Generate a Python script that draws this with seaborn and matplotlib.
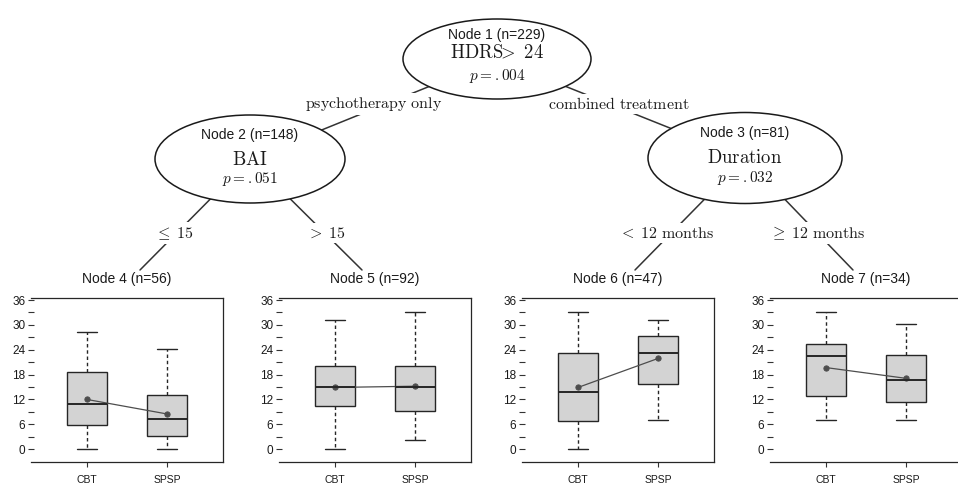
import matplotlib
matplotlib.use("Agg")
import matplotlib.pyplot as plt
from matplotlib.patches import Ellipse
import pandas as pd
import seaborn as sns

# values
groups = ["CBT", "SPSP"]
leaf_titles = ["Node 4 (n=56)", "Node 5 (n=92)", "Node 6 (n=47)", "Node 7 (n=34)"]
# five-number summaries: lower whisker, Q1, median, Q3, upper whisker
cbt_stats = [[0.0, 5.8, 11.0, 18.7, 28.3],
             [0.0, 10.4, 15.1, 20.2, 31.3],
             [0.0, 6.9, 13.8, 23.3, 33.0],
             [7.0, 12.9, 22.5, 25.4, 33.0]]
spsp_stats = [[0.0, 3.1, 7.2, 13.0, 24.1],
              [2.2, 9.3, 15.1, 20.2, 33.0],
              [7.0, 15.7, 23.3, 27.4, 31.2],
              [7.0, 11.3, 16.7, 22.7, 30.3]]
cbt_means = [12.0, 14.9, 14.9, 19.7]
spsp_means = [8.5, 15.2, 21.9, 17.1]

inner_titles = ["Node 1 (n=229)", "Node 2 (n=148)", "Node 3 (n=81)"]
inner_vars = [r"$\mathrm{HDRS}\!\!>\ 24$", r"$\mathrm{BAI}$", r"$\mathrm{Duration}$"]
inner_p = [r"$p=.004$", r"$p=.051$", r"$p=.032$"]
edge_labels = [r"$\mathrm{psychotherapy\ only}$", r"$\mathrm{combined\ treatment}$",
               r"$\leq\;15$", r"$>\;15$",
               r"$<\;12\ \mathrm{months}$", r"$\geq\;12\ \mathrm{months}$"]

rows = []
for i, t in enumerate(leaf_titles):
    for g, st in zip(groups, [cbt_stats[i], spsp_stats[i]]):
        for v in st:
            rows.append((t, g, v))
df = pd.DataFrame(rows, columns=["node", "group", "score"])

sns.set_style("white")
plt.rcParams["font.family"] = ["Liberation Sans", "DejaVu Sans"]
plt.rcParams["mathtext.fontset"] = "cm"

W, H = 958, 484
fig = plt.figure(figsize=(W / 100, H / 100), dpi=100)

def px_rect(left, top, width, height):
    return [left / W, 1 - (top + height) / H, width / W, height / H]

# tree layer in pixel coordinates
tree = fig.add_axes([0, 0, 1, 1])
tree.set_xlim(0, W)
tree.set_ylim(H, 0)
tree.axis("off")

ink = "#1a1a1a"
node_xy = [(497, 59), (250, 159), (745, 158)]
node_size = [(188, 80), (190, 88), (194, 91)]
node_text_y = [(35, 53, 76), (135, 160, 179), (133, 158, 178)]

edges = [((497, 59), (250, 159), (374, 104)),
         ((497, 59), (745, 158), (619, 104)),
         ((250, 159), (140, 270), (175, 233)),
         ((250, 159), (362, 270), (327, 233)),
         ((745, 158), (635, 270), (667, 233)),
         ((745, 158), (853, 270), (818, 233))]

for (a, b, lab_xy), lab in zip(edges, edge_labels):
    tree.plot([a[0], b[0]], [a[1], b[1]], color="#333333", lw=1.1, zorder=1)
    tree.text(lab_xy[0], lab_xy[1], lab, ha="center", va="center", fontsize=11.5,
              color=ink, zorder=3, bbox=dict(fc="white", ec="none", pad=1.5))

for i in range(3):
    cx, cy = node_xy[i]
    w, h = node_size[i]
    tree.add_patch(Ellipse((cx, cy), w, h, fc="white", ec="#1a1a1a", lw=1.1, zorder=2))
    ty = node_text_y[i]
    tree.text(cx, ty[0], inner_titles[i], ha="center", va="center", fontsize=10, color=ink, zorder=4)
    tree.text(cx, ty[1], inner_vars[i], ha="center", va="center", fontsize=13.5, color=ink, zorder=4)
    tree.text(cx, ty[2], inner_p[i], ha="center", va="center", fontsize=11, color=ink, zorder=4)

# leaf panels
lefts = [31, 279, 522, 770]
for i, t in enumerate(leaf_titles):
    ax = fig.add_axes(px_rect(lefts[i], 298, 192, 164))
    sub = df[df["node"] == t]
    sns.boxplot(data=sub, x="group", y="score", order=groups, whis=(0, 100),
                width=0.5, color="#d3d3d3", saturation=1, linecolor="#262626",
                linewidth=1.0, fliersize=0,
                whiskerprops=dict(linestyle=(0, (2.5, 2))),
                medianprops=dict(linewidth=1.4), ax=ax)
    sns.pointplot(x=groups, y=[cbt_means[i], spsp_means[i]], order=groups,
                  color="#4d4d4d", markersize=3.8, linewidth=0.9,
                  errorbar=None, ax=ax)
    ax.set_xlim(-0.7, 1.7)
    ax.set_ylim(-3.1, 36.5)
    ax.set_yticks(range(0, 37, 6))
    ax.set_yticks(range(3, 34, 6), minor=True)
    ax.set_xlabel("")
    ax.set_ylabel("")
    ax.set_title(t, fontsize=10, pad=10.5, color=ink)
    ax.tick_params(axis="y", which="both", direction="inout", length=5, width=0.8,
                   pad=1.5, labelsize=8.5, color="#333333", labelcolor=ink, left=True)
    ax.tick_params(axis="x", direction="out", length=3.6, width=0.8, pad=6,
                   labelsize=7.5, color="#333333", labelcolor=ink, bottom=True)
    ax.spines["left"].set_visible(False)
    for s in ["top", "right", "bottom"]:
        ax.spines[s].set_color("#262626")
        ax.spines[s].set_linewidth(0.9)

fig.savefig("out.png", dpi=100)
